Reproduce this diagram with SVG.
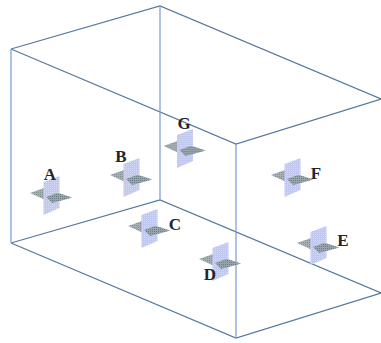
<svg xmlns="http://www.w3.org/2000/svg" width="381" height="343" viewBox="0 0 381 343">
<style>
.edge{fill:none;stroke:#56789a;stroke-width:1.2}
.v{stroke:#7a9ad0}
.flat{fill:url(#dotsFlat)}
.front{fill:url(#dotsFront)}
.plane{fill:url(#dotsPlane)}
.cyan .plane{fill:url(#dotsCyan)}
text{font-family:"Liberation Serif","Times New Roman",serif;font-size:17px;font-weight:bold;fill:#24242c;text-anchor:middle}
</style>
<defs>
<pattern id="dotsFlat" width="2" height="2" patternUnits="userSpaceOnUse"><rect width="2" height="2" fill="#a4b0b4"/><rect width="1" height="1" fill="#7f8f94"/></pattern>
<pattern id="dotsFront" width="2" height="2" patternUnits="userSpaceOnUse"><rect width="2" height="2" fill="#98a4ac"/><rect width="1" height="1" fill="#6f7f88"/></pattern>
<pattern id="dotsPlane" width="2" height="2" patternUnits="userSpaceOnUse"><rect width="2" height="2" fill="#c0c8f0"/><rect width="1" height="1" fill="#d4daf6"/></pattern>
<pattern id="dotsCyan" width="2" height="2" patternUnits="userSpaceOnUse"><rect width="2" height="2" fill="#b8d0ec"/><rect width="1" height="1" fill="#d0e2f4"/></pattern>
<g id="cross">
<polygon class="flat" points="30,193 44,188 72,197.500 52,203"/>
<polygon class="plane" points="43.500,182 59.500,176 59.500,208 43.500,215"/>
<polygon class="front" points="46,197 57,193 72,197.500 52,203"/>
</g>
</defs>
<rect width="381" height="343" fill="#fff"/>
<g id="connectors">
<path class="edge" d="M11,49L160,6L381,99L236,144L11,49"/>
<path class="edge" d="M11,243L160,200L381,293L236,338L11,243"/>
<path class="edge v" d="M11,49V243M160,6V200M236,144V338"/>
</g>
<g id="A"><use href="#cross"/><text x="50" y="180">A</text></g>
<g id="B"><use href="#cross" x="80" y="-18"/><text x="121" y="162">B</text></g>
<g id="C"><use href="#cross" x="98" y="33"/><text x="175" y="230">C</text></g>
<g id="D"><use href="#cross" x="169" y="66"/><text x="210" y="280">D</text></g>
<g id="E" class="cyan"><use href="#cross" x="267" y="50"/><text x="343" y="246">E</text></g>
<g id="F"><use href="#cross" x="241" y="-18"/><text x="316" y="179">F</text></g>
<g id="G" class="cyan"><use href="#cross" x="133.500" y="-47"/><text x="184" y="129">G</text></g>
</svg>
